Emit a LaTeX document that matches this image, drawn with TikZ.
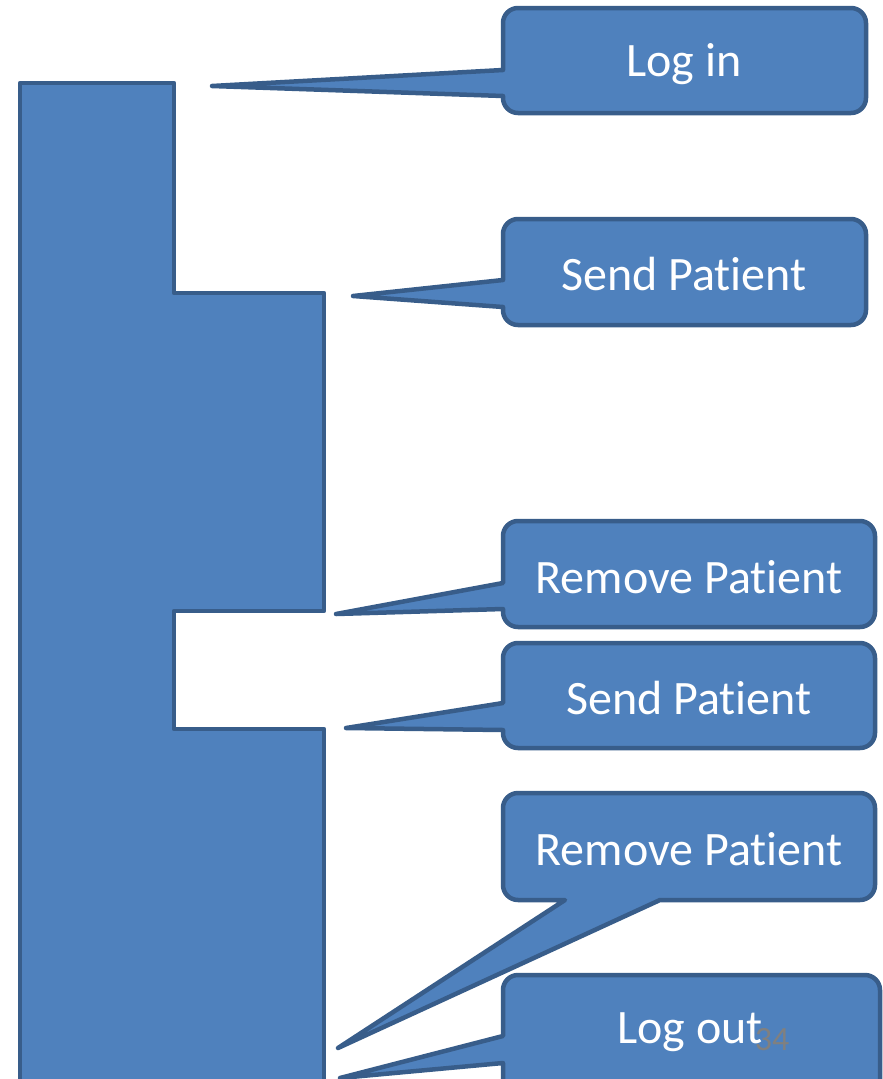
\documentclass[tikz,border=0pt]{standalone}
\usepackage{fontspec}
\setmainfont[Ligatures={NoCommon}]{Carlito}
\definecolor{boxfill}{HTML}{4F81BD}
\definecolor{boxline}{HTML}{385D8A}
\begin{document}
\begin{tikzpicture}[x=1pt,y=-1pt,
  shapestyle/.style={fill=boxfill,draw=boxline,line width=4.5pt,line join=round},
  label/.style={text=white,font=\fontsize{48}{56}\selectfont,inner sep=0pt}]
\useasboundingbox (0,0) rectangle (883,1079);
\clip (0,0) rectangle (883,1079);
% activation bar of the session
\path[shapestyle] (20,83) -- (174,83) -- (174,293) -- (324,293) -- (324,611)
  -- (174,611) -- (174,729) -- (324,729) -- (324,1100) -- (20,1100) -- cycle;
% callout: Log in
\path[shapestyle] (503,70) [rounded corners=15pt] -- (503,8) -- (866,8) -- (866,113)
  -- (503,113) [sharp corners] -- (503,96) -- (212,86) -- cycle;
\node[label] (login) at (684,64) {Log in};
% callout: Send Patient
\path[shapestyle] (503,280) [rounded corners=15pt] -- (503,219) -- (866,219) -- (866,325)
  -- (503,325) [sharp corners] -- (503,307) -- (353,296) -- cycle;
\node[label] (send1) at (684,274) {Send Patient};
% callout: Remove Patient
\path[shapestyle] (503,583) [rounded corners=15pt] -- (503,521) -- (875,521) -- (875,627)
  -- (503,627) [sharp corners] -- (503,609) -- (336,614) -- cycle;
\node[label] (remove1) at (689,577) {Remove Patient};
% callout: Send Patient
\path[shapestyle] (503,703) [rounded corners=15pt] -- (503,643) -- (875,643) -- (875,748)
  -- (503,748) [sharp corners] -- (503,730) -- (346,728) -- cycle;
\node[label] (send2) at (689,698) {Send Patient};
% callout: Remove Patient (pointer from the lower edge)
\path[shapestyle] (565,900) [rounded corners=15pt] -- (503,900) -- (503,793) -- (875,793)
  -- (875,900) [sharp corners] -- (660,900) -- (338,1048) -- cycle;
\node[label] (remove2) at (689,849) {Remove Patient};
% callout: Log out
\path[shapestyle] (503,1036) [rounded corners=15pt] -- (503,975) -- (880,975) -- (880,1110)
  -- (503,1110) [sharp corners] -- (503,1063) -- (340,1078) -- cycle;
\node[label] (logout) at (690,1032) {Log out};
% slide number
\node[text=gray,font=\fontsize{34}{40}\selectfont,inner sep=0pt] (pagenum) at (772,1040) {34};
\end{tikzpicture}
\end{document}
